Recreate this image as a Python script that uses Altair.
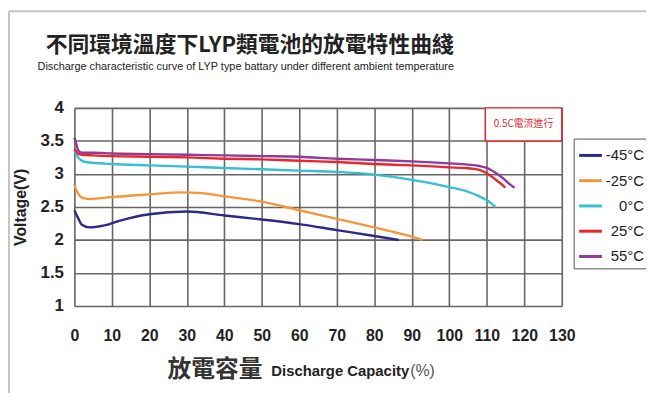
import altair as alt
import pandas as pd

# ---- data ----
series = ["-45°C", "-25°C", "0°C", "25°C", "55°C"]
colors = ["#2b2a86", "#f5963a", "#35bfd0", "#e8262b", "#92399c"]

x_m45 = [0, 1, 2, 4, 8, 12, 20, 30, 40, 50, 60, 70, 80, 86.5]
v_m45 = [2.45, 2.33, 2.23, 2.19, 2.22, 2.29, 2.39, 2.43, 2.37, 2.31, 2.24, 2.15, 2.06, 2.0]

x_m25 = [0, 1, 2, 4, 10, 20, 28, 34, 40, 50, 60, 70, 80, 90, 92.9]
v_m25 = [2.83, 2.70, 2.64, 2.62, 2.65, 2.69, 2.72, 2.71, 2.66, 2.58, 2.45, 2.32, 2.19, 2.05, 2.0]

x_0 = [0, 1, 2, 3, 10, 20, 30, 40, 50, 60, 70, 80, 90, 95, 100, 105, 108, 110, 112.3]
v_0 = [3.36, 3.25, 3.20, 3.18, 3.15, 3.13, 3.11, 3.09, 3.07, 3.05, 3.03, 2.99, 2.91, 2.86, 2.80, 2.73, 2.66, 2.60, 2.50]

x_25 = [0, 1, 2, 5, 10, 20, 30, 40, 50, 60, 70, 80, 90, 100, 105, 108, 110, 112, 114, 114.9]
v_25 = [3.38, 3.31, 3.29, 3.28, 3.27, 3.26, 3.25, 3.23, 3.22, 3.20, 3.18, 3.15, 3.13, 3.10, 3.085, 3.06, 3.01, 2.93, 2.84, 2.79]

x_55 = [0, 0.5, 1, 2, 5, 10, 20, 30, 40, 50, 60, 70, 80, 90, 100, 105, 108, 110, 112, 114, 116, 117.4]
v_55 = [3.55, 3.45, 3.36, 3.32, 3.32, 3.31, 3.30, 3.29, 3.28, 3.27, 3.26, 3.23, 3.21, 3.19, 3.16, 3.14, 3.12, 3.09, 3.03, 2.95, 2.85, 2.79]

x_ticks = list(range(0, 131, 10))
y_ticks = [1, 1.5, 2, 2.5, 3, 3.5, 4]

title_text = "不同環境溫度下LYP類電池的放電特性曲綫"
subtitle_text = "Discharge characteristic curve of LYP type battary under different ambient temperature"
xlabel_cn = "放電容量"
xlabel_en = "Discharge Capacity"
xlabel_unit = "(%)"
ylabel = "Voltage(V)"

note_text = "0.5C電流進行"
note_x = [109.6]
note_x2 = [130]
note_y = [3.5]
note_y2 = [4.0]

# ---- build table ----
xs = [x_m45, x_m25, x_0, x_25, x_55]
vs = [v_m45, v_m25, v_0, v_25, v_55]
rows = []
for s, xx, vv in zip(series, xs, vs):
    for a, b in zip(xx, vv):
        rows.append({"series": s, "cap": a, "v": b})
df = pd.DataFrame(rows)

xscale = alt.Scale(domain=[0, 130], nice=False, zero=False)
yscale = alt.Scale(domain=[1, 4], nice=False, zero=False)

FONT = "Liberation Sans, Arial, sans-serif"
CJK = "Noto Sans CJK TC, Noto Sans CJK SC, sans-serif"

xaxis = alt.Axis(values=x_ticks, title=None, labelFontSize=16, labelFontWeight="bold",
                 labelColor="#222", labelFont=FONT, labelPadding=22, grid=True,
                 domain=False, ticks=False, gridColor="#666666", gridWidth=1.6,
                 labelFlush=False, labelOverlap=False)
yaxis = alt.Axis(values=y_ticks, format="~g", title=ylabel, labelFontSize=17,
                 labelFontWeight="bold", labelColor="#222", labelFont=FONT,
                 labelPadding=11, grid=True, domain=False, ticks=False,
                 gridColor="#666666", gridWidth=1.6, labelFlush=False,
                 labelOverlap=False,
                 titleFont=FONT, titleFontSize=16, titleFontWeight="bold",
                 titleColor="#222", titleX=-46, titleY=100, titleAngle=270,
                 titleAlign="center", titleBaseline="bottom")

lines = alt.Chart(df).mark_line(strokeWidth=2.4, interpolate="monotone").encode(
    x=alt.X("cap:Q", scale=xscale, axis=xaxis),
    y=alt.Y("v:Q", scale=yscale, axis=yaxis),
    color=alt.Color("series:N", scale=alt.Scale(domain=series, range=colors),
                    legend=alt.Legend(title=None, orient="none", legendX=504, legendY=31,
                                      symbolType="stroke", symbolSize=529, symbolStrokeWidth=3,
                                      labelFontSize=15, labelFont=FONT, labelColor="#222",
                                      labelAlign="right", labelOffset=41, rowPadding=4.5,
                                      padding=4, strokeColor="#555", fillColor="white",
                                      labelLimit=100)),
)

note_df = pd.DataFrame({"x": note_x, "x2": note_x2, "y": note_y, "y2": note_y2,
                        "t": [note_text], "xc": [(note_x[0] + note_x2[0]) / 2],
                        "yc": [(note_y[0] + note_y2[0]) / 2]})
note_box = alt.Chart(note_df).mark_rect(fill="white", stroke="#e3262b", strokeWidth=1.5).encode(
    x=alt.X("x:Q", scale=xscale, axis=xaxis), x2="x2:Q",
    y=alt.Y("y:Q", scale=yscale, axis=yaxis), y2="y2:Q")
note_lbl = alt.Chart(note_df).mark_text(color="#d9303a", fontSize=10, font=CJK).encode(
    x=alt.X("xc:Q", scale=xscale, axis=xaxis), y=alt.Y("yc:Q", scale=yscale, axis=yaxis),
    text="t:N")

tdf = pd.DataFrame({"t": [title_text]})
title_mark = alt.Chart(tdf).mark_text(fontSize=22, font=CJK, fontWeight="bold", color="#222",
                                       align="center", baseline="middle").encode(
    x=alt.value(177), y=alt.value(-63), text="t:N")
sdf = pd.DataFrame({"t": [subtitle_text]})
sub_mark = alt.Chart(sdf).mark_text(fontSize=11, font=FONT, color="#222",
                                     align="center", baseline="middle").encode(
    x=alt.value(173), y=alt.value(-41), text="t:N")

xl1 = alt.Chart(pd.DataFrame({"t": [xlabel_cn]})).mark_text(
    fontSize=24, font=CJK, fontWeight="bold", color="#333", align="right", baseline="middle"
).encode(x=alt.value(190), y=alt.value(265), text="t:N")
xl2 = alt.Chart(pd.DataFrame({"t": [xlabel_en]})).mark_text(
    fontSize=15, font=FONT, fontWeight="bold", color="#222", align="right", baseline="middle"
).encode(x=alt.value(338), y=alt.value(266), text="t:N")
xl3 = alt.Chart(pd.DataFrame({"t": [xlabel_unit]})).mark_text(
    fontSize=16, font=FONT, color="#555", align="left", baseline="middle"
).encode(x=alt.value(339), y=alt.value(266), text="t:N")

frame_top = alt.Chart(pd.DataFrame({"a": [0]})).mark_rule(color="#c4c4c4", strokeWidth=2).encode(
    x=alt.value(-66), x2=alt.value(580), y=alt.value(-97.5))
frame_left = alt.Chart(pd.DataFrame({"a": [0]})).mark_rule(color="#c4c4c4", strokeWidth=2).encode(
    x=alt.value(-66), y=alt.value(-97.5), y2=alt.value(290))

chart = alt.layer(frame_top, frame_left, note_box, note_lbl, lines, title_mark, sub_mark,
                  xl1, xl2, xl3).properties(
    width=492, height=200,
    autosize=alt.AutoSizeParams(type="none"),
    padding={"left": 67, "top": 99, "right": 85, "bottom": 86},
).configure_view(stroke="#666666", strokeWidth=1.6).configure(background="white")

chart.save("out.html", embed_options={"renderer": "svg", "actions": False})
